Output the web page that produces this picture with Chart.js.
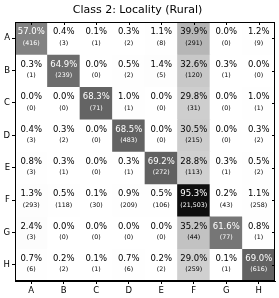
<!DOCTYPE html>
<html>
<head>
<meta charset="utf-8">
<script src="https://cdn.jsdelivr.net/npm/chart.js@4"></script>
<style>
  html, body { margin: 0; padding: 0; background: #fff; }
  #wrap { width: 279px; height: 298px; }
</style>
</head>
<body>
<div id="wrap"><canvas id="cm"></canvas></div>
<script>
// class labels (rows = true, columns = predicted)
const classes = ['A', 'B', 'C', 'D', 'E', 'F', 'G', 'H'];

// percentages per row
const pct = [
    [57.0, 0.4, 0.1, 0.3, 1.1, 39.9, 0.0, 1.2],
    [0.3, 64.9, 0.0, 0.5, 1.4, 32.6, 0.3, 0.0],
    [0.0, 0.0, 68.3, 1.0, 0.0, 29.8, 0.0, 1.0],
    [0.4, 0.3, 0.0, 68.5, 0.0, 30.5, 0.0, 0.3],
    [0.8, 0.3, 0.0, 0.3, 69.2, 28.8, 0.3, 0.5],
    [1.3, 0.5, 0.1, 0.9, 0.5, 95.3, 0.2, 1.1],
    [2.4, 0.0, 0.0, 0.0, 0.0, 35.2, 61.6, 0.8],
    [0.7, 0.2, 0.1, 0.7, 0.2, 29.0, 0.1, 69.0]
];

// counts per row
const counts = [
    [416, 3, 1, 2, 8, 291, 0, 9],
    [1, 239, 0, 2, 5, 120, 1, 0],
    [0, 0, 71, 1, 0, 31, 0, 1],
    [3, 2, 0, 483, 0, 215, 0, 2],
    [3, 1, 0, 1, 272, 113, 1, 2],
    [293, 118, 30, 209, 106, 21503, 43, 258],
    [3, 0, 0, 0, 0, 44, 77, 1],
    [6, 2, 1, 6, 2, 259, 1, 616]
];

const title = 'Class 2: Locality (Rural)';
const FONT = '"DejaVu Sans", sans-serif';

// matplotlib "Greys" colormap stops
const greys = [255, 240, 217, 189, 150, 115, 82, 37, 0];
function greyColor(p) {
    var t = Math.max(0, Math.min(1, p / 100)) * 8;
    var i = Math.min(7, Math.floor(t));
    var g = Math.round(greys[i] + (greys[i + 1] - greys[i]) * (t - i));
    return 'rgb(' + g + ',' + g + ',' + g + ')';
}

var datasets = pct.map(function(row, r) {
    return {
        label: classes[r],
        data: row.map(function() { return [r, r + 1]; }),
        backgroundColor: row.map(greyColor),
        borderWidth: 0,
        borderSkipped: false,
        barPercentage: 1.0,
        categoryPercentage: 1.0,
        grouped: false
    };
});

// writes percentage and count inside every cell, draws the frame
var cellText = {
    id: 'cellText',
    afterDatasetsDraw: function(chart) {
        var ctx = chart.ctx;
        ctx.save();
        ctx.textAlign = 'center';
        ctx.textBaseline = 'middle';
        chart.data.datasets.forEach(function(ds, r) {
            var meta = chart.getDatasetMeta(r);
            meta.data.forEach(function(bar, c) {
                var cy = (bar.y + bar.base) / 2;
                var p = pct[r][c];
                ctx.fillStyle = p > 50 ? '#ffffff' : '#000000';
                ctx.font = '8.5px ' + FONT;
                ctx.fillText(p.toFixed(1) + '%', bar.x, cy - 6);
                ctx.font = '6.3px ' + FONT;
                ctx.fillText('(' + counts[r][c].toLocaleString('en-US') + ')', bar.x, cy + 5);
            });
        });
        ctx.restore();
    },
    afterDraw: function(chart) {
        var a = chart.chartArea;
        var ctx = chart.ctx;
        ctx.save();
        ctx.strokeStyle = '#000';
        ctx.lineWidth = 1;
        ctx.strokeRect(Math.round(a.left) + 0.5, Math.round(a.top) + 0.5,
                       Math.round(a.right - a.left) - 1, Math.round(a.bottom - a.top) - 1);
        // inward ticks on top and right, matplotlib style
        var xs = chart.scales.x, ys = chart.scales.y;
        ctx.beginPath();
        classes.forEach(function(c, i) {
            var x = Math.round(xs.getPixelForValue(i)) + 0.5;
            ctx.moveTo(x, a.top);
            ctx.lineTo(x, a.top + 3);
            var y = Math.round(ys.getPixelForValue(i + 0.5)) + 0.5;
            ctx.moveTo(a.right, y);
            ctx.lineTo(a.right - 3, y);
        });
        ctx.stroke();
        ctx.restore();
    }
};

new Chart(document.getElementById('cm').getContext('2d'), {
    type: 'bar',
    data: { labels: classes, datasets: datasets },
    options: {
        responsive: true,
        maintainAspectRatio: false,
        animation: false,
        layout: { padding: { left: 0, right: 4, top: 0, bottom: 0 } },
        plugins: {
            legend: { display: false },
            tooltip: { enabled: false },
            title: {
                display: true,
                text: title,
                color: '#000',
                font: { family: FONT, size: 11, weight: 'normal' },
                padding: { top: 4, bottom: 4.8 }
            }
        },
        scales: {
            x: {
                type: 'category',
                offset: true,
                grid: { display: true, drawOnChartArea: false, tickLength: 3, color: '#000', offset: false },
                border: { display: true, color: '#000' },
                ticks: { color: '#000', font: { family: FONT, size: 8.5 }, padding: 2 },
                afterFit: function(scale) { scale.height = 17; }
            },
            y: {
                type: 'linear',
                min: 0,
                max: 8,
                reverse: true,
                afterBuildTicks: function(scale) {
                    scale.ticks = classes.map(function(c, i) { return { value: i + 0.5 }; });
                },
                grid: { display: true, drawOnChartArea: false, tickLength: 3, color: '#000' },
                border: { display: true, color: '#000' },
                ticks: {
                    color: '#000',
                    font: { family: FONT, size: 8.5 },
                    padding: 2,
                    callback: function(v) { return classes[Math.floor(v)]; }
                },
                afterFit: function(scale) { scale.width = 15; }
            }
        }
    },
    plugins: [cellText]
});
</script>
</body>
</html>
